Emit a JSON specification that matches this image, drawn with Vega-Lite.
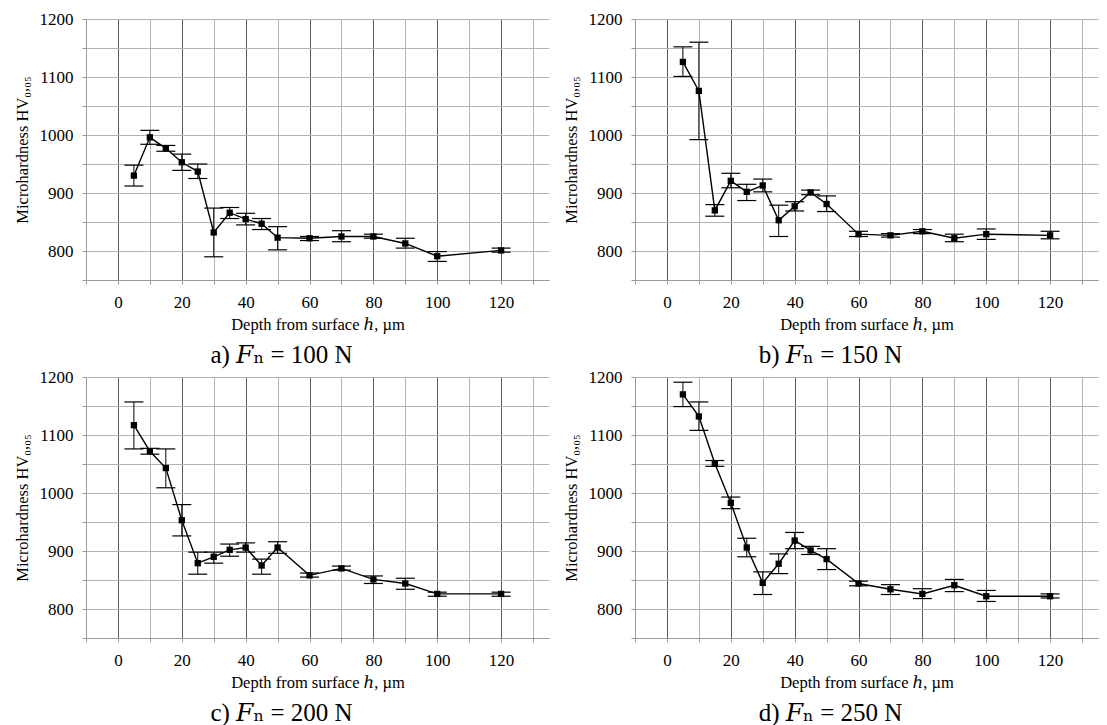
{
  "$schema": "https://vega.github.io/schema/vega-lite/v6.json",
  "background": "white",
  "padding": {"left": 14, "top": 10, "right": 5, "bottom": 5},
  "datasets": {
    "hv": [
      {"p": "a", "h": 5, "hv": 930, "lo": 912, "hi": 948},
      {"p": "a", "h": 10, "hv": 996, "lo": 984, "hi": 1008},
      {"p": "a", "h": 15, "hv": 977, "lo": 972, "hi": 982},
      {"p": "a", "h": 20, "hv": 953, "lo": 939, "hi": 967},
      {"p": "a", "h": 25, "hv": 937, "lo": 925, "hi": 950},
      {"p": "a", "h": 30, "hv": 832, "lo": 790, "hi": 874},
      {"p": "a", "h": 35, "hv": 866, "lo": 856, "hi": 875},
      {"p": "a", "h": 40, "hv": 855, "lo": 845, "hi": 865},
      {"p": "a", "h": 45, "hv": 847, "lo": 837, "hi": 856},
      {"p": "a", "h": 50, "hv": 823, "lo": 802, "hi": 842},
      {"p": "a", "h": 60, "hv": 822, "lo": 818, "hi": 825},
      {"p": "a", "h": 70, "hv": 825, "lo": 816, "hi": 835},
      {"p": "a", "h": 80, "hv": 825, "lo": 822, "hi": 829},
      {"p": "a", "h": 90, "hv": 813, "lo": 805, "hi": 822},
      {"p": "a", "h": 100, "hv": 791, "lo": 782, "hi": 799},
      {"p": "a", "h": 120, "hv": 801, "lo": 798, "hi": 805},
      {"p": "b", "h": 5, "hv": 1126, "lo": 1101, "hi": 1152},
      {"p": "b", "h": 10, "hv": 1076, "lo": 992, "hi": 1160},
      {"p": "b", "h": 15, "hv": 870, "lo": 860, "hi": 880},
      {"p": "b", "h": 20, "hv": 921, "lo": 909, "hi": 934},
      {"p": "b", "h": 25, "hv": 902, "lo": 887, "hi": 915},
      {"p": "b", "h": 30, "hv": 913, "lo": 902, "hi": 924},
      {"p": "b", "h": 35, "hv": 853, "lo": 825, "hi": 879},
      {"p": "b", "h": 40, "hv": 877, "lo": 869, "hi": 885},
      {"p": "b", "h": 45, "hv": 901, "lo": 897, "hi": 905},
      {"p": "b", "h": 50, "hv": 881, "lo": 868, "hi": 895},
      {"p": "b", "h": 60, "hv": 829, "lo": 825, "hi": 834},
      {"p": "b", "h": 70, "hv": 827, "lo": 824, "hi": 830},
      {"p": "b", "h": 80, "hv": 834, "lo": 830, "hi": 837},
      {"p": "b", "h": 90, "hv": 822, "lo": 816, "hi": 829},
      {"p": "b", "h": 100, "hv": 829, "lo": 820, "hi": 838},
      {"p": "b", "h": 120, "hv": 827, "lo": 821, "hi": 834},
      {"p": "c", "h": 5, "hv": 1117, "lo": 1076, "hi": 1157},
      {"p": "c", "h": 10, "hv": 1072, "lo": 1067, "hi": 1077},
      {"p": "c", "h": 15, "hv": 1043, "lo": 1009, "hi": 1076},
      {"p": "c", "h": 20, "hv": 953, "lo": 926, "hi": 980},
      {"p": "c", "h": 25, "hv": 879, "lo": 860, "hi": 898},
      {"p": "c", "h": 30, "hv": 890, "lo": 879, "hi": 898},
      {"p": "c", "h": 35, "hv": 902, "lo": 891, "hi": 912},
      {"p": "c", "h": 40, "hv": 906, "lo": 898, "hi": 914},
      {"p": "c", "h": 45, "hv": 875, "lo": 860, "hi": 886},
      {"p": "c", "h": 50, "hv": 906, "lo": 896, "hi": 916},
      {"p": "c", "h": 60, "hv": 858, "lo": 855, "hi": 862},
      {"p": "c", "h": 70, "hv": 870, "lo": 867, "hi": 874},
      {"p": "c", "h": 80, "hv": 851, "lo": 844, "hi": 857},
      {"p": "c", "h": 90, "hv": 844, "lo": 834, "hi": 853},
      {"p": "c", "h": 100, "hv": 826, "lo": 822, "hi": 829},
      {"p": "c", "h": 120, "hv": 826, "lo": 822, "hi": 829},
      {"p": "d", "h": 5, "hv": 1170, "lo": 1149, "hi": 1191},
      {"p": "d", "h": 10, "hv": 1132, "lo": 1108, "hi": 1157},
      {"p": "d", "h": 15, "hv": 1051, "lo": 1046, "hi": 1056},
      {"p": "d", "h": 20, "hv": 983, "lo": 973, "hi": 993},
      {"p": "d", "h": 25, "hv": 906, "lo": 890, "hi": 922},
      {"p": "d", "h": 30, "hv": 845, "lo": 825, "hi": 864},
      {"p": "d", "h": 35, "hv": 878, "lo": 861, "hi": 895},
      {"p": "d", "h": 40, "hv": 918, "lo": 904, "hi": 932},
      {"p": "d", "h": 45, "hv": 901, "lo": 894, "hi": 908},
      {"p": "d", "h": 50, "hv": 886, "lo": 868, "hi": 904},
      {"p": "d", "h": 60, "hv": 844, "lo": 840, "hi": 848},
      {"p": "d", "h": 70, "hv": 834, "lo": 825, "hi": 842},
      {"p": "d", "h": 80, "hv": 826, "lo": 818, "hi": 835},
      {"p": "d", "h": 90, "hv": 841, "lo": 830, "hi": 851},
      {"p": "d", "h": 100, "hv": 822, "lo": 813, "hi": 832},
      {"p": "d", "h": 120, "hv": 822, "lo": 819, "hi": 826}
    ]
  },
  "spacing": 0,
  "vconcat": [
    {
      "spacing": 14,
      "hconcat": [
        {
          "width": 463, "height": 261,
          "title": {"text": "a) 𝐹ₙ = 100 N"},
          "data": {"name": "hv"},
          "transform": [{"filter": "datum.p === 'a'"}],
          "encoding": {"x": {"field": "h", "type": "quantitative", "title": "Depth from surface ℎ, µm", "scale": {"domain": [-10, 135], "nice": false, "zero": false}, "axis": {"labelFont": "Liberation Serif", "labelFontSize": 17}}},
          "layer": [
            {"mark": {"type": "rule", "color": "black", "strokeWidth": 1}, "encoding": {"y": {"field": "lo", "type": "quantitative", "title": "Microhardness HV₀,₀₅", "scale": {"domain": [750, 1200], "nice": false, "zero": false}}, "y2": {"field": "hi"}}},
            {"mark": {"type": "tick", "orient": "horizontal", "size": 19, "thickness": 1.2, "color": "black", "opacity": 1}, "encoding": {"y": {"field": "lo", "type": "quantitative", "title": "Microhardness HV₀,₀₅", "scale": {"domain": [750, 1200], "nice": false, "zero": false}}}},
            {"mark": {"type": "tick", "orient": "horizontal", "size": 19, "thickness": 1.2, "color": "black", "opacity": 1}, "encoding": {"y": {"field": "hi", "type": "quantitative", "title": "Microhardness HV₀,₀₅", "scale": {"domain": [750, 1200], "nice": false, "zero": false}}}},
            {"mark": {"type": "line", "color": "black", "strokeWidth": 1.4}, "encoding": {"y": {"field": "hv", "type": "quantitative", "title": "Microhardness HV₀,₀₅", "scale": {"domain": [750, 1200], "nice": false, "zero": false}, "axis": {"labelFont": "Liberation Serif", "labelFontSize": 17}}}},
            {"mark": {"type": "square", "size": 40, "color": "black", "filled": true, "opacity": 1}, "encoding": {"y": {"field": "hv", "type": "quantitative", "title": "Microhardness HV₀,₀₅", "scale": {"domain": [750, 1200], "nice": false, "zero": false}}}}
          ]
        },
        {
          "width": 463, "height": 261,
          "title": {"text": "b) 𝐹ₙ = 150 N"},
          "data": {"name": "hv"},
          "transform": [{"filter": "datum.p === 'b'"}],
          "encoding": {"x": {"field": "h", "type": "quantitative", "title": "Depth from surface ℎ, µm", "scale": {"domain": [-10, 135], "nice": false, "zero": false}, "axis": {"labelFont": "Liberation Serif", "labelFontSize": 17}}},
          "layer": [
            {"mark": {"type": "rule", "color": "black", "strokeWidth": 1}, "encoding": {"y": {"field": "lo", "type": "quantitative", "title": "Microhardness HV₀,₀₅", "scale": {"domain": [750, 1200], "nice": false, "zero": false}}, "y2": {"field": "hi"}}},
            {"mark": {"type": "tick", "orient": "horizontal", "size": 19, "thickness": 1.2, "color": "black", "opacity": 1}, "encoding": {"y": {"field": "lo", "type": "quantitative", "title": "Microhardness HV₀,₀₅", "scale": {"domain": [750, 1200], "nice": false, "zero": false}}}},
            {"mark": {"type": "tick", "orient": "horizontal", "size": 19, "thickness": 1.2, "color": "black", "opacity": 1}, "encoding": {"y": {"field": "hi", "type": "quantitative", "title": "Microhardness HV₀,₀₅", "scale": {"domain": [750, 1200], "nice": false, "zero": false}}}},
            {"mark": {"type": "line", "color": "black", "strokeWidth": 1.4}, "encoding": {"y": {"field": "hv", "type": "quantitative", "title": "Microhardness HV₀,₀₅", "scale": {"domain": [750, 1200], "nice": false, "zero": false}, "axis": {"labelFont": "Liberation Serif", "labelFontSize": 17}}}},
            {"mark": {"type": "square", "size": 40, "color": "black", "filled": true, "opacity": 1}, "encoding": {"y": {"field": "hv", "type": "quantitative", "title": "Microhardness HV₀,₀₅", "scale": {"domain": [750, 1200], "nice": false, "zero": false}}}}
          ]
        }
      ]
    },
    {
      "spacing": 14,
      "hconcat": [
        {
          "width": 463, "height": 261,
          "title": {"text": "c) 𝐹ₙ = 200 N"},
          "data": {"name": "hv"},
          "transform": [{"filter": "datum.p === 'c'"}],
          "encoding": {"x": {"field": "h", "type": "quantitative", "title": "Depth from surface ℎ, µm", "scale": {"domain": [-10, 135], "nice": false, "zero": false}, "axis": {"labelFont": "Liberation Serif", "labelFontSize": 17}}},
          "layer": [
            {"mark": {"type": "rule", "color": "black", "strokeWidth": 1}, "encoding": {"y": {"field": "lo", "type": "quantitative", "title": "Microhardness HV₀,₀₅", "scale": {"domain": [750, 1200], "nice": false, "zero": false}}, "y2": {"field": "hi"}}},
            {"mark": {"type": "tick", "orient": "horizontal", "size": 19, "thickness": 1.2, "color": "black", "opacity": 1}, "encoding": {"y": {"field": "lo", "type": "quantitative", "title": "Microhardness HV₀,₀₅", "scale": {"domain": [750, 1200], "nice": false, "zero": false}}}},
            {"mark": {"type": "tick", "orient": "horizontal", "size": 19, "thickness": 1.2, "color": "black", "opacity": 1}, "encoding": {"y": {"field": "hi", "type": "quantitative", "title": "Microhardness HV₀,₀₅", "scale": {"domain": [750, 1200], "nice": false, "zero": false}}}},
            {"mark": {"type": "line", "color": "black", "strokeWidth": 1.4}, "encoding": {"y": {"field": "hv", "type": "quantitative", "title": "Microhardness HV₀,₀₅", "scale": {"domain": [750, 1200], "nice": false, "zero": false}, "axis": {"labelFont": "Liberation Serif", "labelFontSize": 17}}}},
            {"mark": {"type": "square", "size": 40, "color": "black", "filled": true, "opacity": 1}, "encoding": {"y": {"field": "hv", "type": "quantitative", "title": "Microhardness HV₀,₀₅", "scale": {"domain": [750, 1200], "nice": false, "zero": false}}}}
          ]
        },
        {
          "width": 463, "height": 261,
          "title": {"text": "d) 𝐹ₙ = 250 N"},
          "data": {"name": "hv"},
          "transform": [{"filter": "datum.p === 'd'"}],
          "encoding": {"x": {"field": "h", "type": "quantitative", "title": "Depth from surface ℎ, µm", "scale": {"domain": [-10, 135], "nice": false, "zero": false}, "axis": {"labelFont": "Liberation Serif", "labelFontSize": 17}}},
          "layer": [
            {"mark": {"type": "rule", "color": "black", "strokeWidth": 1}, "encoding": {"y": {"field": "lo", "type": "quantitative", "title": "Microhardness HV₀,₀₅", "scale": {"domain": [750, 1200], "nice": false, "zero": false}}, "y2": {"field": "hi"}}},
            {"mark": {"type": "tick", "orient": "horizontal", "size": 19, "thickness": 1.2, "color": "black", "opacity": 1}, "encoding": {"y": {"field": "lo", "type": "quantitative", "title": "Microhardness HV₀,₀₅", "scale": {"domain": [750, 1200], "nice": false, "zero": false}}}},
            {"mark": {"type": "tick", "orient": "horizontal", "size": 19, "thickness": 1.2, "color": "black", "opacity": 1}, "encoding": {"y": {"field": "hi", "type": "quantitative", "title": "Microhardness HV₀,₀₅", "scale": {"domain": [750, 1200], "nice": false, "zero": false}}}},
            {"mark": {"type": "line", "color": "black", "strokeWidth": 1.4}, "encoding": {"y": {"field": "hv", "type": "quantitative", "title": "Microhardness HV₀,₀₅", "scale": {"domain": [750, 1200], "nice": false, "zero": false}, "axis": {"labelFont": "Liberation Serif", "labelFontSize": 17}}}},
            {"mark": {"type": "square", "size": 40, "color": "black", "filled": true, "opacity": 1}, "encoding": {"y": {"field": "hv", "type": "quantitative", "title": "Microhardness HV₀,₀₅", "scale": {"domain": [750, 1200], "nice": false, "zero": false}}}}
          ]
        }
      ]
    }
  ],
  "config": {
    "font": "Liberation Serif",
    "view": {"stroke": null},
    "style": {
      "guide-label": {"font": "Liberation Serif", "fontSize": 17, "fill": "black"},
      "guide-title": {"font": "Liberation Serif, DejaVu Serif", "fontSize": 16.5, "fill": "black", "fontWeight": "normal"},
      "group-title": {"font": "Liberation Serif, DejaVu Serif", "fontSize": 25, "fill": "black", "fontWeight": "normal"}
    },
    "title": {"orient": "bottom", "anchor": "middle", "frame": "bounds", "fontSize": 25, "fontWeight": "normal", "font": "Liberation Serif, DejaVu Serif", "color": "black", "offset": 10},
    "axis": {
      "labelFont": "Liberation Serif", "titleFont": "Liberation Serif, DejaVu Serif",
      "labelFontSize": 17, "titleFontSize": 16.5, "titleFontWeight": "normal",
      "labelColor": "black", "titleColor": "black",
      "domainColor": "#9a9a9a", "tickColor": "#9a9a9a", "gridColor": "#b4b4b4",
      "domainWidth": 1, "tickWidth": 1, "gridWidth": 1, "tickSize": 4, "grid": true, "format": "d"
    },
    "axisX": {
      "values": [0, 10, 20, 30, 40, 50, 60, 70, 80, 90, 100, 110, 120, 130],
      "labelExpr": "datum.value % 20 === 0 ? datum.label : ''",
      "gridColor": {"condition": {"test": "datum.value % 20 === 0", "value": "#5a5a5a"}, "value": "#b4b4b4"},
      "labelPadding": 10, "titlePadding": 6, "labelFlush": false
    },
    "axisY": {
      "values": [750, 800, 850, 900, 950, 1000, 1050, 1100, 1150, 1200],
      "labelExpr": "datum.value % 100 === 0 ? datum.label : ''",
      "labelPadding": 9, "titlePadding": 9, "labelFlush": false
    }
  }
}
